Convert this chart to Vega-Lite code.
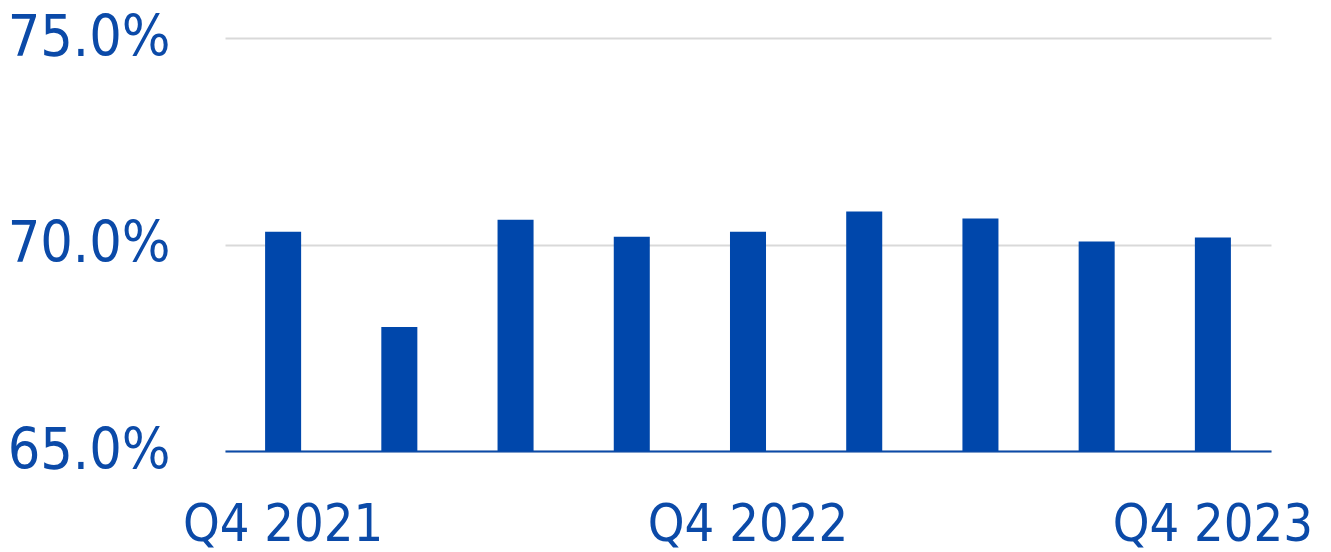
{
  "$schema": "https://vega.github.io/schema/vega-lite/v6.json",
  "autosize": {"type": "none"},
  "width": 1046,
  "height": 413,
  "padding": {"left": 225, "top": 38, "right": 60, "bottom": 101},
  "background": "#ffffff",
  "data": {
    "values": [
      {"quarter": "Q4 2021", "value": 0.7031},
      {"quarter": "Q1 2022", "value": 0.6800},
      {"quarter": "Q2 2022", "value": 0.7060},
      {"quarter": "Q3 2022", "value": 0.7019},
      {"quarter": "Q4 2022", "value": 0.7031},
      {"quarter": "Q1 2023", "value": 0.7080},
      {"quarter": "Q2 2023", "value": 0.7063},
      {"quarter": "Q3 2023", "value": 0.7007},
      {"quarter": "Q4 2023", "value": 0.7017}
    ]
  },
  "mark": {"type": "bar", "color": "#0047ab", "clip": true},
  "encoding": {
    "x": {
      "field": "quarter",
      "type": "ordinal",
      "sort": null,
      "scale": {"paddingInner": 0.69, "paddingOuter": 0.345},
      "axis": {
        "title": null,
        "labelAngle": 0,
        "labelExpr": "indexof(datum.value, 'Q4') === 0 ? datum.value : ''",
        "labelFont": "DejaVu Sans Condensed, DejaVu Sans",
        "labelFontSize": 52,
        "labelColor": "#0b4aa8",
        "labelPadding": 48,
        "labelLimit": 500,
        "labelOverlap": false,
        "labelFlush": false,
        "ticks": false,
        "domainColor": "#0b4aa8",
        "domainWidth": 2
      }
    },
    "y": {
      "field": "value",
      "type": "quantitative",
      "scale": {"domain": [0.65, 0.75], "zero": false, "nice": false},
      "axis": {
        "title": null,
        "values": [0.65, 0.70, 0.75],
        "format": ".1%",
        "labelFont": "DejaVu Sans Condensed, DejaVu Sans",
        "labelFontSize": 57,
        "labelColor": "#0b4aa8",
        "labelPadding": 55,
        "labelLimit": 500,
        "labelFlush": false,
        "ticks": false,
        "domain": false,
        "grid": true,
        "gridColor": "#d9d9d9",
        "gridWidth": 2
      }
    }
  },
  "config": {"view": {"stroke": null}}
}
